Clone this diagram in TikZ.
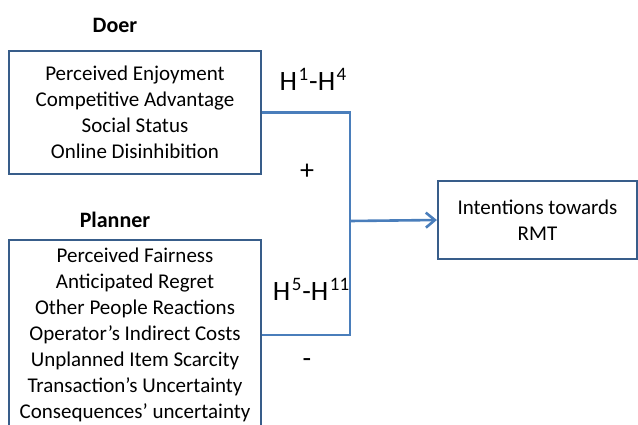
\documentclass[tikz,border=0pt]{standalone}
\usepackage{fontspec}
\setmainfont{Carlito}
\usetikzlibrary{arrows.meta}
\definecolor{boxline}{HTML}{385D8A}
\definecolor{linkline}{HTML}{4A7EBB}
\newcommand{\hsup}[1]{\hspace{1.5pt}\raisebox{0.36em}{\fontsize{19}{19}\selectfont #1}\hspace{1pt}}

\begin{document}
\begin{tikzpicture}[x=1pt,y=-1pt]
\tikzset{factorbox/.style={draw=boxline,line width=2.2pt,align=center,inner sep=0pt,font=\fontsize{21}{26}\selectfont},
  grouplbl/.style={font=\fontsize{22}{24}\selectfont\bfseries},
  hyplbl/.style={font=\fontsize{28}{30}\selectfont},
  link/.style={draw=linkline,line width=2.6pt}}
\clip (0,0) rectangle (638,424);

\node[grouplbl] (doerlbl) at (115,25) {Doer};
\node[factorbox,minimum width=252pt,minimum height=123pt] (doer) at (135,112.5) {Perceived Enjoyment\\Competitive Advantage\\Social Status\\Online Disinhibition};

\node[grouplbl] (plannerlbl) at (115,220) {Planner};
\node[factorbox,minimum width=252pt,minimum height=190pt] (planner) at (135,335) {Perceived Fairness\\Anticipated Regret\\Other People Reactions\\Operator’s Indirect Costs\\Unplanned Item Scarcity\\Transaction’s Uncertainty\\Consequences’ uncertainty};

\node[factorbox,minimum width=199pt,minimum height=78pt] (rmt) at (537.5,220) {Intentions towards\\RMT};

\node[hyplbl] (hdoer) at (313,79) {H\hsup{1}-H\hsup{4}};
\node[hyplbl] (hplanner) at (311,289) {H\hsup{5}-H\hsup{11}};
\node[hyplbl] (plus) at (307,172) {+};
\node[hyplbl] (minus) at (307,363) {-};

\coordinate (join) at (350,221);
\draw[link] (doer.east) -| (join);
\draw[link] (planner.east) -| (join);
\draw[link,-{Straight Barb[length=9pt,width=15pt]}] (join) -- (rmt.west);

\end{tikzpicture}
\end{document}
